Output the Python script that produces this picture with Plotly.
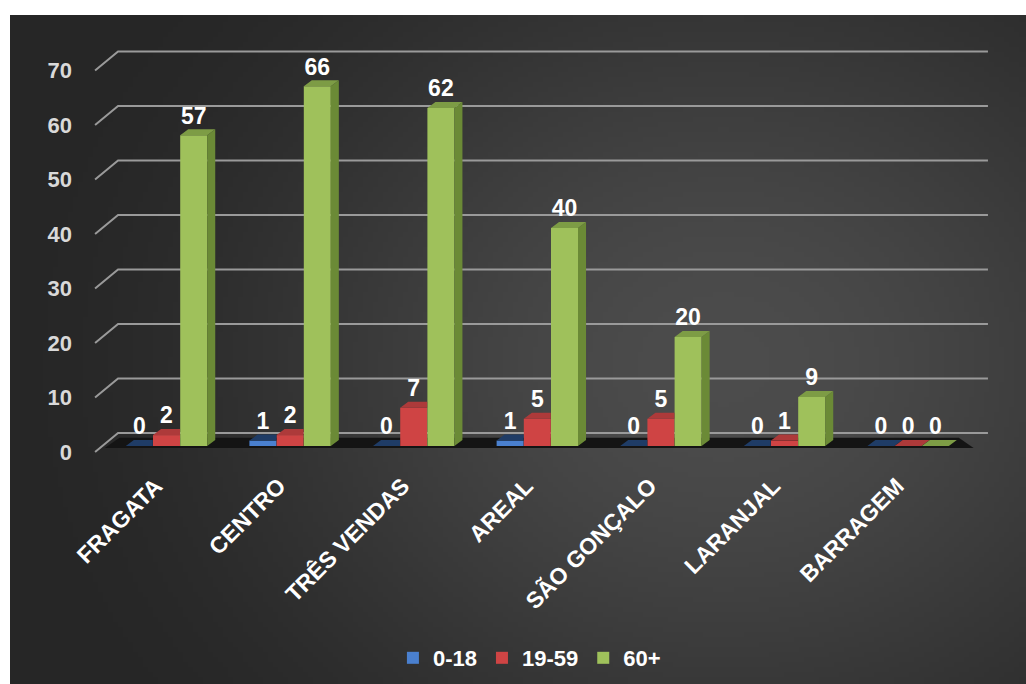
import base64
import struct
import zlib

import plotly.graph_objects as go

# ---- data ----
bairros = ["FRAGATA", "CENTRO", "TRÊS VENDAS", "AREAL", "SÃO GONÇALO", "LARANJAL", "BARRAGEM"]
faixa_0_18 = [0, 1, 0, 1, 0, 0, 0]
faixa_19_59 = [2, 2, 7, 5, 5, 1, 0]
faixa_60_mais = [57, 66, 62, 40, 20, 9, 0]
series_names = ["0-18", "19-59", "60+"]
y_ticks = [0, 10, 20, 30, 40, 50, 60, 70]

# ---- styling ----
W, H = 1026, 684
FONT = "Arial, Liberation Sans, sans-serif"
front_colors = ["#4a80cf", "#cf4444", "#9fc15b"]
side_colors = ["#2d5590", "#9a3030", "#6b8a36"]
top_colors = ["#1f3c66", "#ad3a3a", "#7d9c45"]

BAR_W = 0.2185      # bar width in category units
OFFSET = 0.22       # distance between series inside a cluster
DX = 0.065          # depth offset (x, category units)
DY = 1.1            # depth offset (y, value units)
BACK_DY = 2.4       # back wall offset of gridlines
FRONT_DY = -1.1     # front edge offset of gridlines / tick labels

X_RANGE = [-0.619, 6.703]
Y_RANGE = [-1.65, 73.58]
X_DOMAIN = [90 / W, 995 / W]
Y_DOMAIN = [(H - 455) / H, (H - 45) / H]


def gradient_png(w, h):
    """Radial dark-grey gradient used as the chart background."""
    cx, cy = 0.70 * w, 0.52 * h
    rad = 0.72 * w
    rows = []
    for j in range(h):
        row = bytearray([0])
        for i in range(w):
            d = (((i - cx) / rad) ** 2 + ((j - cy) / (rad * 0.85)) ** 2) ** 0.5
            t = min(d, 1.0)
            t = t * t * (3 - 2 * t)
            v = int(round(76 * (1 - t) + 38 * t))
            row += bytes((v, v, v))
        rows.append(bytes(row))
    raw = b"".join(rows)

    def chunk(tag, data):
        return (struct.pack(">I", len(data)) + tag + data
                + struct.pack(">I", zlib.crc32(tag + data) & 0xFFFFFFFF))

    png = (b"\x89PNG\r\n\x1a\n"
           + chunk(b"IHDR", struct.pack(">IIBBBBB", w, h, 8, 2, 0, 0, 0))
           + chunk(b"IDAT", zlib.compress(raw, 9))
           + chunk(b"IEND", b""))
    return "data:image/png;base64," + base64.b64encode(png).decode()


fig = go.Figure()
values = [faixa_0_18, faixa_19_59, faixa_60_mais]
n_cat = len(bairros)

# back-wall gridlines with slanted left ends (drawn beneath the columns)
x_back_left, x_back_right, x_front_left = -0.392, 6.646, -0.578
grid_path = " ".join(
    f"M{x_front_left},{v + FRONT_DY} L{x_back_left},{v + BACK_DY} L{x_back_right},{v + BACK_DY}"
    for v in y_ticks
)
floor_path = "M-0.5,-0.35 L-0.38,1.5 L6.41,1.5 L6.53,-0.35 Z"
shapes = [
    dict(type="path", path=grid_path, xref="x", yref="y", layer="below",
         line=dict(color="#9a9a9a", width=2)),
    dict(type="path", path=floor_path, xref="x", yref="y", layer="below",
         fillcolor="#141414", line=dict(width=0)),
]

# front faces of the columns
for s, name in enumerate(series_names):
    xs = [c + (s - 1) * OFFSET for c in range(n_cat)]
    fig.add_trace(go.Bar(x=xs, y=values[s], width=BAR_W, name=name,
                         marker=dict(color=front_colors[s], line=dict(width=0)),
                         hoverinfo="skip"))

# side and top faces, hidden parts removed where the next column is taller
for s in range(3):
    sx, sy, tx, ty = [], [], [], []
    for c in range(n_cat):
        v = values[s][c]
        p = c + (s - 1) * OFFSET
        x0 = p + BAR_W / 2
        xl = p - BAR_W / 2
        nxt = values[s + 1][c] if s < 2 else 0
        if v > nxt:
            sx += [x0, x0 + DX, x0 + DX, x0, x0, None]
            sy += [nxt, nxt + DY, v + DY, v, nxt, None]
        if s < 2 and nxt > v:
            tx += [xl, xl + DX, x0, x0, xl, None]
            ty += [v, v + DY, v + DY, v, v, None]
        else:
            tx += [xl, xl + DX, x0 + DX, x0, xl, None]
            ty += [v, v + DY, v + DY, v, v, None]
    if sx:
        fig.add_trace(go.Scatter(x=sx, y=sy, mode="lines", fill="toself",
                                 fillcolor=side_colors[s], line=dict(width=0),
                                 hoverinfo="skip", showlegend=False))
    fig.add_trace(go.Scatter(x=tx, y=ty, mode="lines", fill="toself",
                             fillcolor=top_colors[s], line=dict(width=0),
                             hoverinfo="skip", showlegend=False))

# value labels
for s in range(3):
    xs = [c + (s - 1) * OFFSET for c in range(n_cat)]
    fig.add_trace(go.Scatter(x=xs, y=[v + DY for v in values[s]], mode="text",
                             text=[str(v) for v in values[s]], textposition="top center",
                             textfont=dict(family=FONT, size=23, color="white", weight="bold"),
                             hoverinfo="skip", showlegend=False, cliponaxis=False))

# invisible trace that carries the tick-label axis
fig.add_trace(go.Scatter(x=[0], y=[0], yaxis="y2", mode="markers",
                         marker=dict(opacity=0), hoverinfo="skip", showlegend=False))

fig.update_layout(
    width=W, height=H,
    margin=dict(l=0, r=0, t=0, b=0, autoexpand=False),
    paper_bgcolor="white",
    plot_bgcolor="rgba(0,0,0,0)",
    barmode="overlay",
    showlegend=True,
    shapes=shapes,
    legend=dict(orientation="h", x=0.516, xanchor="center", y=0.038, yanchor="middle",
                bgcolor="rgba(0,0,0,0)", font=dict(family=FONT, size=22, color="white", weight="bold"),
                traceorder="normal"),
    xaxis=dict(domain=X_DOMAIN, range=X_RANGE, showgrid=False, zeroline=False,
               showline=False, tickmode="array", tickvals=list(range(n_cat)), ticktext=bairros,
               tickangle=-45, ticks="", ticklabelstandoff=12, ticklabelshift=-11,
               automargin=False,
               tickfont=dict(family=FONT, size=23, color="white", weight="bold")),
    yaxis=dict(domain=Y_DOMAIN, range=Y_RANGE, showgrid=False, zeroline=False,
               showline=False, showticklabels=False, ticks="", automargin=False),
    yaxis2=dict(domain=Y_DOMAIN, range=[Y_RANGE[0] - FRONT_DY, Y_RANGE[1] - FRONT_DY],
                overlaying="y", side="left", anchor="x", showgrid=False, zeroline=False,
                showline=False, tickmode="array", tickvals=y_ticks, ticks="",
                ticklabelstandoff=17, automargin=False,
                tickfont=dict(family=FONT, size=22, color="#d9d9d9", weight="bold")),
    images=[dict(source=gradient_png(203, 134), xref="paper", yref="paper",
                 x=10 / W, y=1 - 15 / H, sizex=1 - 10 / W, sizey=1 - 15 / H,
                 xanchor="left", yanchor="top", sizing="stretch", layer="below")],
)

fig.write_html("out.html")
